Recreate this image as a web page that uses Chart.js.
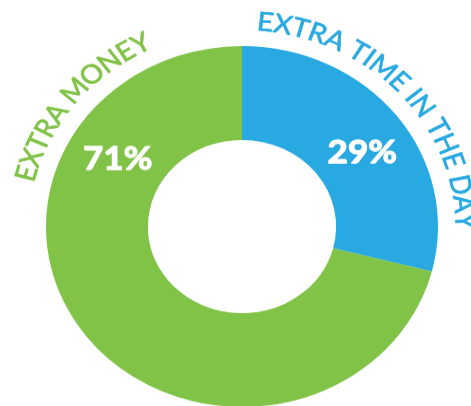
<!DOCTYPE html>
<html>
<head>
<meta charset="utf-8">
<script src="https://cdn.jsdelivr.net/npm/chart.js@4.4.1/dist/chart.umd.min.js"></script>
<style>
  html, body { margin: 0; padding: 0; background: #fff; overflow: hidden; }
  /* the ring is drawn slightly flattened */
  #wrap { position: absolute; left: 0; top: 0; width: 484px; height: 492px; transform: scaleY(0.921); transform-origin: 0 0; }
</style>
</head>
<body>
<div id="wrap"><canvas id="chart" width="484" height="492"></canvas></div>
<script>
const categories = ['EXTRA TIME IN THE DAY', 'EXTRA MONEY']
const shares = [29, 71]
const colors = ['#29a9e1', '#80c347']

// where the names sit along the outside (first/last letter, degrees, 0 = 3 o'clock)
const nameAngles = [[-84, -1.5], [-165, -117]]
// where the percentages sit inside the ring
const valueAngles = [-34, -149]

function curvedText(ctx, text, cx, cy, r, span, color) {
  ctx.save()
  ctx.font = '28.5px Lato'
  ctx.fillStyle = color
  ctx.strokeStyle = color
  ctx.lineWidth = 0.7
  ctx.lineJoin = 'round'
  ctx.textAlign = 'center'
  ctx.textBaseline = 'alphabetic'
  const chars = text.split('')
  const widths = chars.map((c) => ctx.measureText(c).width)
  const capH = ctx.measureText('E').actualBoundingBoxAscent
  const n = chars.length
  const a0 = (span[0] * Math.PI) / 180
  const a1 = (span[1] * Math.PI) / 180
  const natural = widths.reduce((s, w) => s + w, 0) - widths[0] / 2 - widths[n - 1] / 2
  const gap = ((a1 - a0) * r - natural) / (n - 1)
  let s = 0
  chars.forEach((c, i) => {
    if (i > 0) s += widths[i - 1] / 2 + gap + widths[i] / 2
    const a = a0 + s / r
    ctx.save()
    ctx.translate(cx, cy)
    ctx.rotate(a + Math.PI / 2)
    ctx.fillText(c, 0, -r + capH / 2)
    ctx.strokeText(c, 0, -r + capH / 2)
    ctx.restore()
  })
  ctx.restore()
}

const ringLabels = {
  id: 'ringLabels',
  afterDatasetsDraw(chart) {
    const ctx = chart.ctx
    const arcs = chart.getDatasetMeta(0).data
    arcs.forEach((arc, i) => {
      const { x, y, innerRadius, outerRadius } = arc.getProps(['x', 'y', 'innerRadius', 'outerRadius'], true)
      const mid = (innerRadius + outerRadius) / 2
      const a = (valueAngles[i] * Math.PI) / 180
      ctx.save()
      ctx.font = 'bold 35px Lato'
      ctx.fillStyle = '#fff'
      ctx.strokeStyle = '#fff'
      ctx.lineWidth = 1.3
      ctx.lineJoin = 'round'
      ctx.textAlign = 'center'
      ctx.textBaseline = 'alphabetic'
      const label = shares[i] + '%'
      const capH = ctx.measureText(label).actualBoundingBoxAscent
      const lx = x + Math.cos(a) * mid
      const ly = y + Math.sin(a) * mid + capH / 2
      ctx.fillText(label, lx, ly)
      ctx.strokeText(label, lx, ly)
      ctx.restore()

      curvedText(ctx, categories[i], x, y, outerRadius + 28, nameAngles[i], colors[i])
    })
  },
}

new Chart(document.getElementById('chart'), {
  type: 'doughnut',
  data: {
    labels: categories,
    datasets: [
      {
        data: shares,
        backgroundColor: colors,
        borderWidth: 0,
        radius: 196,
        cutout: '48%',
      },
    ],
  },
  options: {
    responsive: false,
    animation: false,
    layout: { padding: 0 },
    plugins: {
      legend: { display: false },
      tooltip: { enabled: false },
    },
  },
  plugins: [ringLabels],
})
</script>
</body>
</html>
